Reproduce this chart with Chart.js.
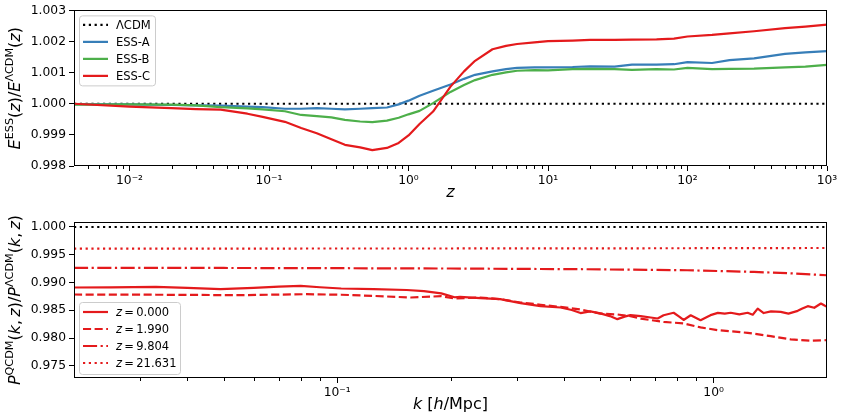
<!DOCTYPE html>
<html>
<head>
<meta charset="utf-8">
<title>ESS / QCDM ratios</title>
<script src="https://cdn.jsdelivr.net/npm/chart.js@4.4.1/dist/chart.umd.min.js"></script>
<style>
  html, body { margin: 0; padding: 0; background: #fff; }
  #wrap { position: relative; width: 843px; height: 419px; overflow: hidden; }
  #wrap canvas { position: absolute; left: 0; }
</style>
</head>
<body>
<div id="wrap">
  <canvas id="essChart" width="843" height="200" style="top:0px"></canvas>
  <canvas id="pkChart" width="843" height="219" style="top:200px"></canvas>
</div>
<script>
// ---- top panel : E_ESS(z) / E_LCDM(z) ----
var zGrid = [0.004, 0.01, 0.02, 0.03, 0.045, 0.07, 0.09, 0.13, 0.17, 0.22,
             0.28, 0.35, 0.45, 0.55, 0.7, 0.85, 1.0, 1.2, 1.5, 2.0,
             2.5, 3.0, 4.0, 5.0, 6.0, 8.0, 10, 15, 20, 30,
             40, 60, 80, 100, 150, 200, 300, 500, 700, 1000];
var essA = [0.99999, 0.99998, 0.99996, 0.99995, 0.99994, 0.99991, 0.99989, 0.99984, 0.99984, 0.99986,
            0.99984, 0.99982, 0.99984, 0.99986, 0.99988, 0.99998, 1.00010, 1.00026, 1.00042, 1.00062,
            1.00080, 1.00093, 1.00104, 1.00111, 1.00115, 1.00117, 1.00117, 1.00118, 1.00120, 1.00119,
            1.00126, 1.00126, 1.00127, 1.00134, 1.00131, 1.00140, 1.00146, 1.00160, 1.00165, 1.00169];
var essB = [0.99997, 0.99998, 0.99997, 0.99995, 0.99989, 0.99985, 0.99982, 0.99976, 0.99964, 0.99960,
            0.99956, 0.99948, 0.99943, 0.99941, 0.99946, 0.99955, 0.99966, 0.99977, 1.00002, 1.00038,
            1.00060, 1.00076, 1.00093, 1.00101, 1.00106, 1.00108, 1.00107, 1.00111, 1.00112, 1.00111,
            1.00109, 1.00111, 1.00110, 1.00115, 1.00111, 1.00112, 1.00113, 1.00117, 1.00119, 1.00125];
var essC = [1.00000, 0.99991, 0.99986, 0.99983, 0.99981, 0.99968, 0.99958, 0.99942, 0.99922, 0.99905,
            0.99886, 0.99868, 0.99860, 0.99851, 0.99858, 0.99874, 0.99898, 0.99935, 0.99975, 1.00055,
            1.00104, 1.00138, 1.00175, 1.00186, 1.00192, 1.00197, 1.00201, 1.00203, 1.00205, 1.00205,
            1.00206, 1.00207, 1.00209, 1.00216, 1.00221, 1.00226, 1.00233, 1.00243, 1.00248, 1.00254];
var zLcdm = [0.004, 1000];
var eLcdm = [1, 1];

var topXTicks = [0.01, 0.1, 1, 10, 100, 1000];
var topXLabels = ['10\u207B\u00B2', '10\u207B\u00B9', '10\u2070', '10\u00B9', '10\u00B2', '10\u00B3'];
var topYTicks = [0.998, 0.999, 1.000, 1.001, 1.002, 1.003];

// ---- bottom panel : P_QCDM(k,z) / P_LCDM(k,z) ----
var kZ0 = [0.02, 0.025, 0.033, 0.04, 0.049, 0.06, 0.07, 0.08, 0.09, 0.1025,
           0.125, 0.153, 0.17, 0.189, 0.205, 0.212, 0.24, 0.271, 0.307, 0.347,
           0.392, 0.42, 0.443, 0.47, 0.50, 0.53, 0.555, 0.58, 0.601, 0.64,
           0.68, 0.71, 0.736, 0.783, 0.81, 0.832, 0.869, 0.923, 0.96, 0.981,
           1.026, 1.07, 1.11, 1.17, 1.231, 1.27, 1.309, 1.358, 1.42, 1.507,
           1.58, 1.672, 1.72, 1.778, 1.85, 1.927, 1.97, 2.0];
var pZ0 = [0.98910, 0.98914, 0.98920, 0.98905, 0.98882, 0.98905, 0.98925, 0.98938, 0.98915, 0.98892,
           0.98882, 0.98865, 0.98845, 0.98805, 0.98735, 0.98741, 0.98720, 0.98700, 0.98630, 0.98574,
           0.98550, 0.98505, 0.98450, 0.98480, 0.98445, 0.98395, 0.98340, 0.98385, 0.98412, 0.98394,
           0.98370, 0.98352, 0.98410, 0.98455, 0.98385, 0.98325, 0.98410, 0.98322, 0.98380, 0.98412,
           0.98453, 0.98440, 0.98455, 0.98425, 0.98455, 0.98420, 0.98530, 0.98450, 0.98480, 0.98470,
           0.98440, 0.98490, 0.98530, 0.98574, 0.98545, 0.98622, 0.98585, 0.98561];
var kZ2 = [0.02, 0.033, 0.0555, 0.083, 0.1025, 0.125, 0.157, 0.189, 0.205, 0.24,
           0.271, 0.307, 0.347, 0.392, 0.443, 0.50, 0.555, 0.601, 0.64, 0.736,
           0.832, 0.923, 1.026, 1.231, 1.418, 1.603, 1.81, 2.0];
var pZ2 = [0.98784, 0.98780, 0.98772, 0.98790, 0.98780, 0.98759, 0.98730, 0.98754, 0.98712, 0.98730,
           0.98700, 0.98640, 0.98600, 0.98560, 0.98514, 0.98440, 0.98424, 0.98394, 0.98350, 0.98291,
           0.98263, 0.98191, 0.98142, 0.98093, 0.98034, 0.97975, 0.97950, 0.97962];
var kZ9 = [0.02, 0.05, 0.1, 0.2, 0.46, 0.85, 1.28, 1.6, 2.0];
var pZ9 = [0.99263, 0.99262, 0.99258, 0.99252, 0.99239, 0.99221, 0.99191, 0.99165, 0.99131];
var kZ21 = [0.02, 0.2, 1.0, 2.0];
var pZ21 = [0.99611, 0.99613, 0.99618, 0.99622];
var kLcdm = [0.02, 2.0];
var pLcdm = [1, 1];

var botXTicks = [0.1, 1];
var botXLabels = ['10\u207B\u00B9', '10\u2070'];
var botYTicks = [0.975, 0.980, 0.985, 0.990, 0.995, 1.000];

var RED = '#e41a1c', BLUE = '#377eb8', GREEN = '#4daf4a';
var FONT = '"DejaVu Sans", sans-serif';
var LW = 2.2;

Chart.defaults.font.family = FONT;
Chart.defaults.color = '#000';

function pairs(xs, ys) {
  return xs.map(function(x, i) { return {x: x, y: ys[i]}; });
}

function fontFor(kind, size) {
  if (kind == 'i') return 'italic ' + size + 'px ' + FONT;
  if (kind == 's') return (size * 0.7) + 'px ' + FONT;
  return size + 'px ' + FONT;
}

// pieces are [text, kind]: n = normal, i = italic, s = superscript
function drawRich(ctx, parts, size, x, y, rotate, left) {
  var widths = [], total = 0;
  parts.forEach(function(p) {
    ctx.font = fontFor(p[1], size);
    var w = ctx.measureText(p[0]).width;
    widths.push(w);
    total += w;
  });
  ctx.save();
  ctx.translate(x, y);
  if (rotate) ctx.rotate(-Math.PI / 2);
  ctx.fillStyle = '#000';
  ctx.textAlign = 'left';
  ctx.textBaseline = 'alphabetic';
  var cx = left ? 0 : -total / 2;
  parts.forEach(function(p, i) {
    ctx.font = fontFor(p[1], size);
    ctx.fillText(p[0], cx, p[1] == 's' ? -size * 0.42 : 0);
    cx += widths[i];
  });
  ctx.restore();
}

function boxPath(ctx, x, y, w, h, r) {
  ctx.beginPath();
  ctx.moveTo(x + r, y);
  ctx.lineTo(x + w - r, y);
  ctx.arcTo(x + w, y, x + w, y + r, r);
  ctx.lineTo(x + w, y + h - r);
  ctx.arcTo(x + w, y + h, x + w - r, y + h, r);
  ctx.lineTo(x + r, y + h);
  ctx.arcTo(x, y + h, x, y + h - r, r);
  ctx.lineTo(x, y + r);
  ctx.arcTo(x, y, x + r, y, r);
  ctx.closePath();
}

// frame, minor log ticks, legend box and axis titles
var paperPlugin = {
  id: 'paper',
  afterDraw: function(chart, args, o) {
    var ctx = chart.ctx, a = chart.chartArea, xs = chart.scales.x;
    ctx.save();
    ctx.strokeStyle = '#000';
    ctx.lineWidth = 1;
    var lo = Math.floor(Math.log10(xs.min)), hi = Math.ceil(Math.log10(xs.max));
    for (var e = lo; e < hi; e++) {
      for (var m = 2; m < 10; m++) {
        var v = m * Math.pow(10, e);
        if (v <= xs.min || v >= xs.max) continue;
        var px = Math.round(xs.getPixelForValue(v)) + 0.5;
        ctx.beginPath();
        ctx.moveTo(px, a.bottom);
        ctx.lineTo(px, a.bottom + 3);
        ctx.stroke();
      }
    }
    ctx.strokeRect(Math.round(a.left) + 0.5, Math.round(a.top) + 0.5,
                   Math.round(a.right - a.left) - 1, Math.round(a.bottom - a.top) - 1);

    var lg = o.legend;
    var ly = lg.fromBottom ? a.bottom - lg.fromBottom - lg.h : a.top + lg.fromTop;
    var lx = a.left + 5;
    boxPath(ctx, lx + 0.5, ly + 0.5, lg.w, lg.h, 3);
    ctx.fillStyle = 'rgba(255,255,255,0.8)';
    ctx.fill();
    ctx.strokeStyle = '#cccccc';
    ctx.stroke();
    lg.items.forEach(function(it, i) {
      var ds = chart.data.datasets[it.ds];
      var yy = ly + lg.first + i * lg.gap;
      ctx.strokeStyle = ds.borderColor;
      ctx.lineWidth = ds.borderWidth || LW;
      ctx.setLineDash(ds.borderDash || []);
      ctx.beginPath();
      ctx.moveTo(lx + 4, yy);
      ctx.lineTo(lx + 29, yy);
      ctx.stroke();
      ctx.setLineDash([]);
      drawRich(ctx, it.parts, 11.5, lx + 37, yy + 4, false, true);
    });

    drawRich(ctx, o.xTitle, 16, (a.left + a.right) / 2, o.xTitleY, false, false);
    drawRich(ctx, o.yTitle, 16, o.yTitleX, (a.top + a.bottom) / 2, true, false);
    ctx.restore();
  }
};

function panelOptions(cfg) {
  return {
    responsive: false,
    animation: false,
    events: [],
    layout: {padding: {top: cfg.padTop, right: 16, left: 0, bottom: 0}},
    elements: {
      line: {borderWidth: LW, tension: 0, fill: false, borderJoinStyle: 'round'},
      point: {radius: 0}
    },
    plugins: {
      legend: {display: false},
      tooltip: {enabled: false},
      paper: cfg.paper
    },
    scales: {
      x: {
        type: 'logarithmic',
        min: cfg.xMin,
        max: cfg.xMax,
        afterBuildTicks: function(s) { s.ticks = cfg.xTicks.map(function(v) { return {value: v}; }); },
        afterFit: function(s) { s.height = cfg.xHeight; },
        ticks: {
          autoSkip: false, maxRotation: 0, padding: 2,
          font: {size: 12.3},
          callback: function(v, i) { return cfg.xLabels[i]; }
        },
        grid: {drawOnChartArea: false, drawTicks: true, tickLength: 5, tickColor: '#000', color: '#000'},
        border: {display: false}
      },
      y: {
        type: 'linear',
        min: cfg.yMin,
        max: cfg.yMax,
        afterBuildTicks: function(s) { s.ticks = cfg.yTicks.map(function(v) { return {value: v}; }); },
        afterFit: function(s) { s.width = 74; },
        ticks: {
          padding: 3,
          font: {size: 12.3},
          callback: function(v) { return v.toFixed(3); }
        },
        grid: {drawOnChartArea: false, drawTicks: true, tickLength: 5, tickColor: '#000', color: '#000'},
        border: {display: false}
      }
    }
  };
}

new Chart('essChart', {
  type: 'line',
  plugins: [paperPlugin],
  data: {
    datasets: [
      {label: '\u039BCDM', data: pairs(zLcdm, eLcdm), borderColor: '#000', borderDash: [2.2, 3.6], order: 4},
      {label: 'ESS-A', data: pairs(zGrid, essA), borderColor: BLUE, order: 3},
      {label: 'ESS-B', data: pairs(zGrid, essB), borderColor: GREEN, order: 2},
      {label: 'ESS-C', data: pairs(zGrid, essC), borderColor: RED, order: 1}
    ]
  },
  options: panelOptions({
    padTop: 9, xHeight: 34,
    xMin: 0.004, xMax: 1000, xTicks: topXTicks, xLabels: topXLabels,
    yMin: 0.998, yMax: 1.003, yTicks: topYTicks,
    paper: {
      xTitle: [['z', 'i']], xTitleY: 197,
      yTitle: [['E', 'i'], ['ESS', 's'], ['(', 'n'], ['z', 'i'], [')/', 'n'],
               ['E', 'i'], ['\u039BCDM', 's'], ['(', 'n'], ['z', 'i'], [')', 'n']],
      yTitleX: 20,
      legend: {
        fromTop: 5, w: 76, h: 70, first: 9.5, gap: 17,
        items: [
          {ds: 0, parts: [['\u039BCDM', 'n']]},
          {ds: 1, parts: [['ESS-A', 'n']]},
          {ds: 2, parts: [['ESS-B', 'n']]},
          {ds: 3, parts: [['ESS-C', 'n']]}
        ]
      }
    }
  })
});

new Chart('pkChart', {
  type: 'line',
  plugins: [paperPlugin],
  data: {
    datasets: [
      {label: 'z = 0.000', data: pairs(kZ0, pZ0), borderColor: RED, order: 1},
      {label: 'z = 1.990', data: pairs(kZ2, pZ2), borderColor: RED, borderDash: [8.1, 3.5], order: 2},
      {label: 'z = 9.804', data: pairs(kZ9, pZ9), borderColor: RED, borderDash: [14.1, 3.5, 2.2, 3.5], order: 3},
      {label: 'z = 21.631', data: pairs(kZ21, pZ21), borderColor: RED, borderDash: [2.2, 3.6], order: 4},
      {label: '\u039BCDM', data: pairs(kLcdm, pLcdm), borderColor: '#000', borderDash: [2.2, 3.6], order: 5}
    ]
  },
  options: panelOptions({
    padTop: 22, xHeight: 41,
    xMin: 0.02, xMax: 2.0, xTicks: botXTicks, xLabels: botXLabels,
    yMin: 0.9728, yMax: 1.0009, yTicks: botYTicks,
    paper: {
      xTitle: [['k', 'i'], [' [', 'n'], ['h', 'i'], ['/Mpc]', 'n']], xTitleY: 209,
      yTitle: [['P', 'i'], ['QCDM', 's'], ['(', 'n'], ['k', 'i'], [',\u2009', 'n'], ['z', 'i'], [')/', 'n'],
               ['P', 'i'], ['\u039BCDM', 's'], ['(', 'n'], ['k', 'i'], [',\u2009', 'n'], ['z', 'i'], [')', 'n']],
      yTitleX: 20,
      legend: {
        fromBottom: 4, w: 101, h: 72, first: 10, gap: 17,
        items: [
          {ds: 0, parts: [['z', 'i'], ['\u2009=\u20090.000', 'n']]},
          {ds: 1, parts: [['z', 'i'], ['\u2009=\u20091.990', 'n']]},
          {ds: 2, parts: [['z', 'i'], ['\u2009=\u20099.804', 'n']]},
          {ds: 3, parts: [['z', 'i'], ['\u2009=\u200921.631', 'n']]}
        ]
      }
    }
  })
});
</script>
</body>
</html>
